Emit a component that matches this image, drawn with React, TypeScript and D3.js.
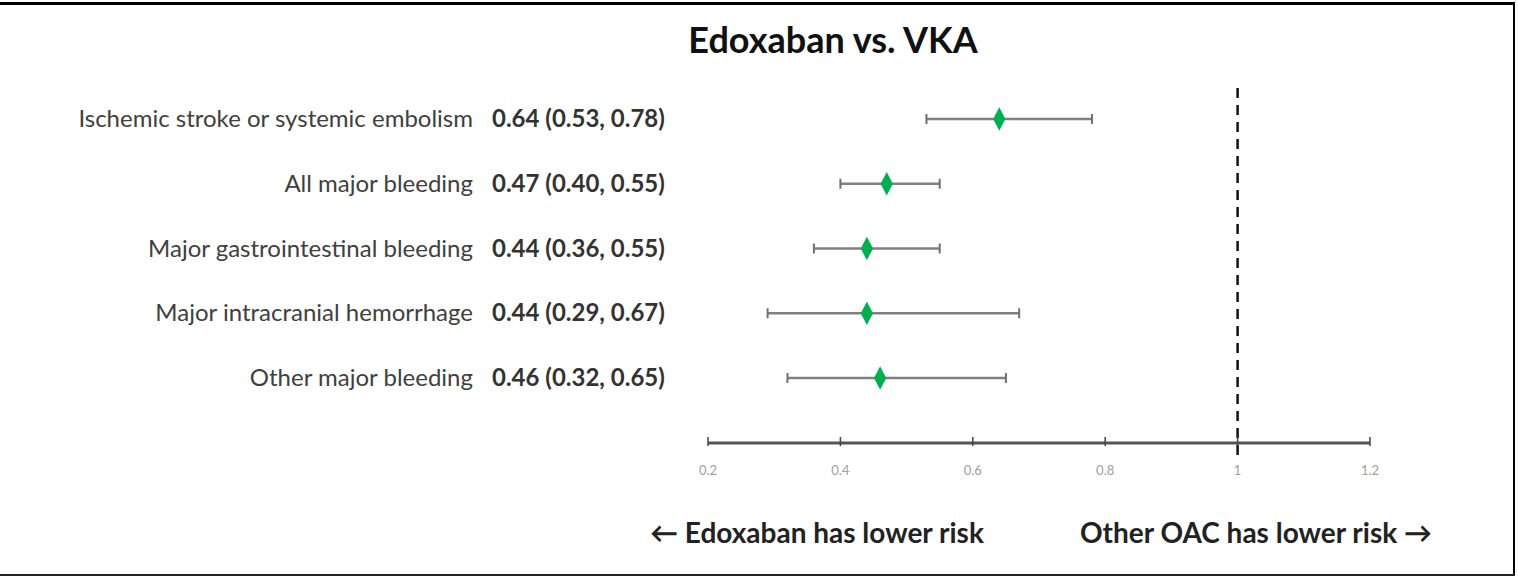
import React from "react";
import * as d3 from "d3";

const outcomes = [
  "Ischemic stroke or systemic embolism",
  "All major bleeding",
  "Major gastrointestinal bleeding",
  "Major intracranial hemorrhage",
  "Other major bleeding",
];
const hr = [0.64, 0.47, 0.44, 0.44, 0.46];
const lower = [0.53, 0.4, 0.36, 0.29, 0.32];
const upper = [0.78, 0.55, 0.55, 0.67, 0.65];
const tickValues = [0.2, 0.4, 0.6, 0.8, 1, 1.2];
const title = "Edoxaban vs. VKA";
const leftNote = "← Edoxaban has lower risk";
const rightNote = "Other OAC has lower risk →";

const W = 1518;
const H = 577;
const FONT = "Lato, 'Open Sans', sans-serif";

export default function App() {
  const x = d3.scaleLinear().domain([0.2, 1.2]).range([708, 1370]);
  const y = d3.scalePoint<string>().domain(outcomes).range([119, 378]);
  const axisY = 443;
  const fmt = (v: number) => d3.format(".2f")(v);
  const diamond = d3.symbol().type(d3.symbolDiamond).size(130)();

  return (
    <svg
      width={W}
      height={H}
      style={{ position: "absolute", left: 0, top: 0, background: "#fff" }}
      fontFamily={FONT}
    >
      {/* frame */}
      <line x1={0} x2={1515} y1={3.5} y2={3.5} stroke="#000" strokeWidth={3} />
      <line x1={1514} x2={1514} y1={3} y2={576} stroke="#000" strokeWidth={2} />
      <line x1={0} x2={1515} y1={575} y2={575} stroke="#222" strokeWidth={2} />

      <text x={833} y={53} textAnchor="middle" fontSize={36} fontWeight="bold" fill="#111">
        {title}
      </text>

      {/* reference line */}
      <line
        x1={x(1)}
        x2={x(1)}
        y1={88}
        y2={455}
        stroke="#111"
        strokeWidth={2.5}
        strokeDasharray="10,7"
      />

      {/* axis */}
      <line x1={x(0.2)} x2={x(1.2)} y1={axisY} y2={axisY} stroke="#555" strokeWidth={3} />
      {tickValues.map((t) => (
        <g key={t}>
          <line x1={x(t)} x2={x(t)} y1={axisY - 6} y2={axisY + 3} stroke="#444" strokeWidth={1.5} />
          <text x={x(t)} y={475} textAnchor="middle" fontSize={13} fill="#a0a0a0">
            {String(t)}
          </text>
        </g>
      ))}

      {outcomes.map((o, i) => {
        const yy = y(o)!;
        return (
          <g key={o}>
            <text x={473} y={yy + 8} textAnchor="end" fontSize={24} fill="#404040">
              {o}
            </text>
            <text x={492} y={yy + 8} textAnchor="start" fontSize={24} fontWeight="bold" fill="#333">
              {`${fmt(hr[i])} (${fmt(lower[i])}, ${fmt(upper[i])})`}
            </text>
            <line x1={x(lower[i])} x2={x(upper[i])} y1={yy} y2={yy} stroke="#808080" strokeWidth={2.5} />
            <line x1={x(lower[i])} x2={x(lower[i])} y1={yy - 5} y2={yy + 5} stroke="#707070" strokeWidth={2} />
            <line x1={x(upper[i])} x2={x(upper[i])} y1={yy - 5} y2={yy + 5} stroke="#707070" strokeWidth={2} />
            <path d={diamond!} transform={`translate(${x(hr[i])},${yy}) scale(1,1.1)`} fill="#00b050" />
          </g>
        );
      })}

      <text x={650} y={543} fontSize={28} fontWeight="bold" fill="#222">
        {leftNote}
      </text>
      <text x={1432} y={543} textAnchor="end" fontSize={28} fontWeight="bold" fill="#222">
        {rightNote}
      </text>
    </svg>
  );
}
